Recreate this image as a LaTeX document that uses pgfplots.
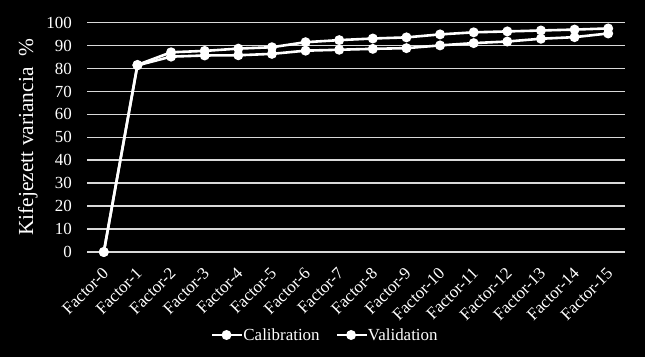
\documentclass[border=0pt]{standalone}
\usepackage{pgfplots}
\pgfplotsset{compat=1.18}
\usepackage{fontspec}
\setmainfont{Liberation Serif}
\definecolor{gridc}{HTML}{D9D9D9}
\begin{document}
\begin{tikzpicture}
\useasboundingbox (0,0) rectangle (645bp,357bp);
\fill[black] (0,0) rectangle (645bp,357bp);
\begin{axis}[
  at={(87bp,105bp)}, anchor=south west,
  scale only axis, width=538bp, height=229.3bp,
  xmin=-0.5, xmax=15.5, ymin=0, ymax=100,
  clip=false,
  /pgf/number format/assume math mode=true,
  ytick={0,10,...,100},
  xtick={0,...,15},
  xticklabels={Factor-0,Factor-1,Factor-2,Factor-3,Factor-4,Factor-5,Factor-6,Factor-7,Factor-8,Factor-9,Factor-10,Factor-11,Factor-12,Factor-13,Factor-14,Factor-15},
  axis line style={draw=none},
  major tick length=0pt,
  ymajorgrids, grid style={color=gridc, line width=1.6bp},
  x tick label style={rotate=45, anchor=north east, inner sep=0pt, xshift=-12bp, yshift=-8.5bp, font=\fontsize{17}{17}\selectfont, text=white},
  y tick label style={anchor=east, inner sep=0pt, xshift=-15bp, font=\fontsize{17}{17}\selectfont, text=white},
  ylabel={Kifejezett variancia\ \ \%},
  y label style={at={(axis description cs:-0.11,0.5)}, anchor=center, font=\fontsize{21.5}{21.5}\selectfont, text=white},
  legend columns=2,
  legend style={at={(0.443,-0.362)}, anchor=center, fill=black, draw=none, text=white,
    font=\fontsize{17}{20}\selectfont, /tikz/every even column/.append style={column sep=14bp},
    /tikz/every odd column/.append style={column sep=-2bp}},
  legend image code/.code={\draw[#1, mark=none] plot coordinates {(0,0) (0.5cm,0) (1.05cm,0)};\draw[#1,only marks, mark=*] plot coordinates {(0.5cm,0)};},
]
\addplot[white, line width=2.6bp, mark=*, mark size=3.6bp, mark options={fill=white}] coordinates {
(0,0) (1,81.6) (2,87.1) (3,87.7) (4,88.7) (5,89.3) (6,91.5) (7,92.4) (8,93.1) (9,93.6) (10,94.9) (11,95.8) (12,96.2) (13,96.6) (14,97.0) (15,97.5)};
\addlegendentry{Calibration}
\addplot[white, line width=2.6bp, mark=*, mark size=3.6bp, mark options={fill=white}] coordinates {
(0,0) (1,81.4) (2,85.2) (3,85.7) (4,85.8) (5,86.4) (6,87.8) (7,88.2) (8,88.6) (9,88.9) (10,90.1) (11,91.1) (12,91.8) (13,93.0) (14,93.7) (15,95.3)};
\addlegendentry{Validation}
\end{axis}
\end{tikzpicture}
\end{document}
